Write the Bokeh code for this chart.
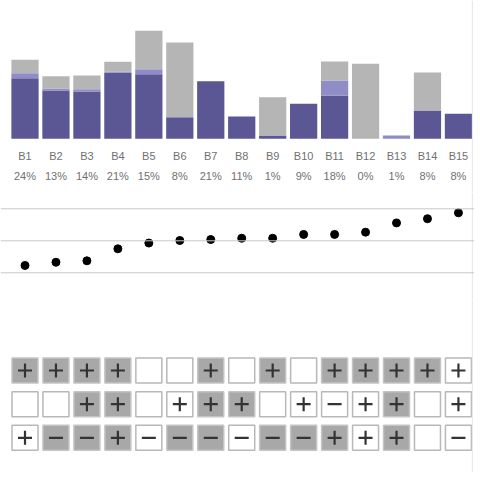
from bokeh.models import ColumnDataSource, Range1d, Span
from bokeh.plotting import figure
from bokeh.layouts import column
from bokeh.core.properties import value
from bokeh.embed import file_html
from bokeh.resources import INLINE

# data
labels = ["B1", "B2", "B3", "B4", "B5", "B6", "B7", "B8", "B9", "B10", "B11", "B12", "B13", "B14", "B15"]
pct = ["24%", "13%", "14%", "21%", "15%", "8%", "21%", "11%", "1%", "9%", "18%", "0%", "1%", "8%", "8%"]
dark = [60.6, 48.3, 47.3, 66.0, 64.6, 21.6, 57.6, 22.3, 3.3, 35.0, 43.0, 0, 0, 28.3, 25.0]
light = [5.0, 1.7, 2.3, 1.3, 5.0, 0, 0, 0, 0, 0, 15.3, 0, 3.3, 0, 0]
grey = [13.4, 12.6, 13.7, 9.7, 38.4, 74.7, 0, 0, 38.3, 0, 19.0, 75.0, 0, 38.0, 0]
dots = [0.23, 0.33, 0.375, 0.75, 0.93, 1.01, 1.04, 1.08, 1.08, 1.2, 1.2, 1.27, 1.56, 1.69, 1.875]
signs = [
    ["+", "+", "+", "+", "", "", "+", "", "+", "", "+", "+", "+", "+", "+"],
    ["", "", "+", "+", "", "+", "+", "+", "", "+", "-", "+", "+", "", "+"],
    ["+", "-", "-", "+", "-", "-", "-", "-", "-", "-", "+", "+", "+", "", "-"],
]
shaded = [
    [1, 1, 1, 1, 0, 0, 1, 0, 1, 0, 1, 1, 1, 1, 0],
    [0, 0, 1, 1, 0, 0, 1, 1, 0, 0, 0, 0, 1, 0, 0],
    [0, 1, 1, 1, 0, 1, 1, 0, 1, 1, 1, 0, 1, 0, 0],
]

W = 474
xs = list(range(len(labels)))
pitch = 30.96
x0 = -24.5 / pitch
xr = Range1d(x0, x0 + W / pitch)
FONT = "Liberation Sans"


def base(h, yr):
    p = figure(width=W, height=h, x_range=xr, y_range=yr, output_backend="svg",
               toolbar_location=None, min_border=0)
    p.axis.visible = False
    p.grid.visible = False
    p.outline_line_color = None
    p.background_fill_color = "white"
    p.border_fill_color = "white"
    p.add_layout(Span(location=14.45, dimension='height', line_color="#e6e6e6", line_width=1))
    return p


# bars
src = ColumnDataSource(dict(x=xs, dark=dark, light=light, grey=grey, lab=labels, pct=pct,
                            ly=[-16.7] * 15, py=[-36.7] * 15))
p1 = base(192, Range1d(-53.7, 138.3))
p1.vbar_stack(["dark", "light", "grey"], x="x", width=0.88, source=src,
              color=["#5b5795", "#8f8cc6", "#b5b5b5"], line_color=None)
p1.text(x="x", y="ly", text="lab", source=src, text_align="center", text_baseline="middle",
        text_font=value(FONT), text_font_size="11px", text_color="#707070")
p1.text(x="x", y="py", text="pct", source=src, text_align="center", text_baseline="middle",
        text_font=value(FONT), text_font_size="11px", text_color="#707070")

# dots
p2 = base(108, Range1d(-0.866, 2.51))
for lv in [0, 1, 2]:
    p2.add_layout(Span(location=lv, dimension='width', line_color="#c8c8c8", line_width=1))
p2.scatter(xs, dots, size=8, color="black")

# sign grid
p3 = base(172, Range1d(3.03, -2.08))
cx, cy, fill, line = [], [], [], []
px, py, mx, my = [], [], [], []
for r in range(3):
    for i in xs:
        cx.append(i)
        cy.append(r)
        fill.append("#a8a8a8" if shaded[r][i] else "white")
        line.append("#c4c4c4" if shaded[r][i] else "#b8b8b8")
        if signs[r][i] == "+":
            px.append(i); py.append(r)
        elif signs[r][i] == "-":
            mx.append(i); my.append(r)
p3.rect(cx, cy, width=26, height=25, width_units="screen", height_units="screen",
        fill_color=fill, line_color=line, line_width=1.5)
p3.scatter(px, py, marker="cross", size=14, line_width=2.2, line_color="#333333")
p3.scatter(mx, my, marker="dash", size=14, line_width=2.2, line_color="#333333")

p = column(p1, p2, p3, spacing=0)
open("out.html", "w").write(file_html(p, INLINE))
